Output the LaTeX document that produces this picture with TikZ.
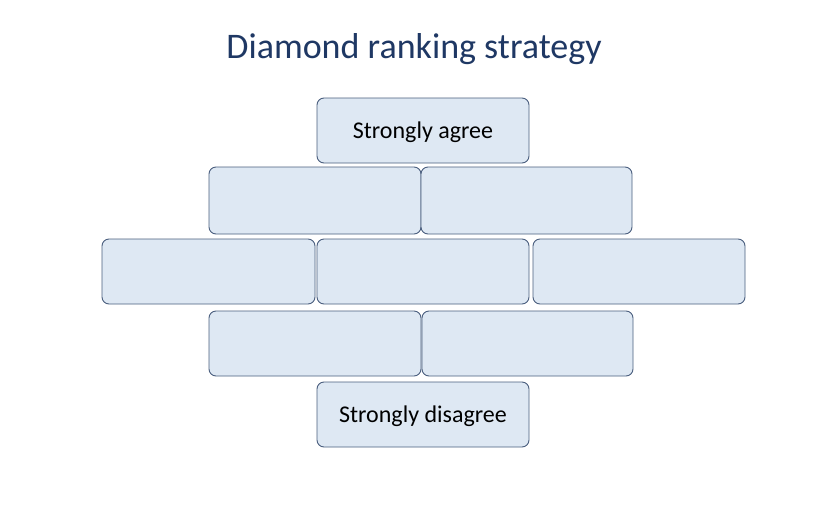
\documentclass[tikz,border=0pt]{standalone}
\usepackage{fontspec}
\setmainfont{Carlito}
\definecolor{cellfill}{HTML}{DEE8F3}
\definecolor{celldraw}{HTML}{4A5E7E}
\definecolor{titleblue}{HTML}{1F3864}
\begin{document}
\begin{tikzpicture}[x=1pt,y=-1pt,
  cell/.style={draw=celldraw, line width=0.9pt, fill=cellfill, rounded corners=7pt, font=\fontsize{24}{28}\selectfont}]
\useasboundingbox[fill=white] (0,0) rectangle (836,520);
\node[text=titleblue, font=\fontsize{36}{42}\selectfont] (title) at (414,49) {Diamond ranking strategy};
\newcommand{\cellbox}[6]{\draw[cell] (#1,#2) rectangle (#3,#4) node[midway,yshift=-2pt] (#5) {#6};}
\cellbox{317}{98}{529}{163}{a}{Strongly agree}
\cellbox{209}{167}{421}{234}{b1}{}
\cellbox{421}{167}{632}{234}{b2}{}
\cellbox{102}{239}{315}{304}{c1}{}
\cellbox{317}{239}{529}{304}{c2}{}
\cellbox{533}{239}{745}{304}{c3}{}
\cellbox{209}{311}{421}{376}{d1}{}
\cellbox{422}{311}{633}{376}{d2}{}
\cellbox{317}{382}{529}{447}{e}{Strongly disagree}
\end{tikzpicture}
\end{document}
